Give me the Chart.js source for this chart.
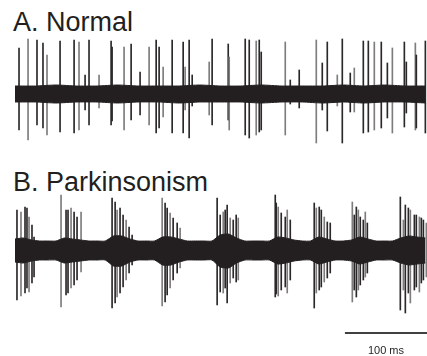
<!DOCTYPE html>
<html>
<head>
<meta charset="utf-8">
<script src="https://cdn.jsdelivr.net/npm/chart.js@4.4.1/dist/chart.umd.min.js"></script>
<style>
  html, body { margin: 0; padding: 0; background: #fff; }
  body {
    width: 427px; height: 356px; position: relative; overflow: hidden;
    font-family: "Liberation Sans", Arial, sans-serif; color: #231f20;
  }
  canvas { position: absolute; left: 0; }
  #chartNormal { top: 0; }
  #chartPark { top: 160px; }
  .panel-title { position: absolute; left: 13px; font-size: 27px; line-height: 27px; white-space: nowrap; }
  #titleA { top: 9px; }
  #titleB { top: 169px; }
  #scaleLabel {
    position: absolute; left: 356px; top: 345px; width: 60px;
    text-align: center; font-size: 11px; line-height: 11px; color: #231f20;
  }
</style>
</head>
<body>
<div class="panel-title" id="titleA">A. Normal</div>
<div class="panel-title" id="titleB">B. Parkinsonism</div>
<canvas id="chartNormal" width="427" height="160"></canvas>
<canvas id="chartPark" width="427" height="196"></canvas>
<div id="scaleLabel"></div>

<script>
/* =====================
 * DADOS — A. Normal (tempo em ms, amplitude em unidades arbitrárias)
 * ===================== */
const normalSpikeTimes = [4.9, 15.9, 26.8, 34.1, 39.0, 54.9, 72.0, 78.0, 85.4, 90.2, 102.4, 117.1, 118.3,
  132.9, 141.5, 152.4, 163.4, 172.0, 175.6, 180.5, 191.5, 204.9, 207.3, 212.2, 215.9, 236.6, 240.2,
  259.8, 261.0, 280.5, 285.4, 293.9, 297.6, 300.0, 329.3, 335.4, 346.3, 367.1, 374.4, 380.5, 392.7,
  398.8, 408.5, 413.4, 424.4, 430.5, 437.8, 446.3, 453.7, 459.8, 474.4, 476.8, 487.8, 489.0, 500.0];
const normalSpikeUp = [46, 55, 54, 51, 39, 53, 54, 52, 19, 54, 19, 53, 47,
  47, 50, 22, 47, 54, 47, 27, 54, 52, 27, 54, 19, 32, 55,
  50, 37, 55, 54, 53, 54, 42, 52, 14, 24, 54, 31, 52, 19,
  55, 21, 26, 53, 53, 52, 52, 31, 46, 52, 32, 51, 39, 53];
const normalSpikeDown = [-36, -46, -31, -34, -41, -38, -39, -36, -16, -31, -14, -31, -27,
  -36, -26, -21, -31, -39, -34, -23, -39, -39, -16, -44, -12, -21, -31,
  -26, -36, -41, -44, -41, -38, -36, -41, -10, -14, -49, -16, -37, -12,
  -49, -18, -18, -39, -38, -36, -34, -24, -39, -33, -19, -36, -34, -39];
const normalBandTimes = [0, 25, 50, 75, 100, 125, 150, 175, 200, 225, 250, 275, 300, 325, 350, 375, 400, 425, 450, 475, 500];
const normalBandUpper = [8, 8, 9, 8, 8, 9, 8, 8, 8, 9, 8, 8, 9, 8, 8, 8, 9, 8, 9, 8, 8];
const normalBandLower = [-8, -8, -9, -8, -8, -9, -8, -8, -9, -8, -8, -8, -9, -8, -8, -9, -8, -9, -8, -8, -9];

/* =====================
 * DADOS — B. Parkinsonism
 * ===================== */
const parkSpikeTimes = [2.4, 7.3, 12.2, 14.6, 17.1, 20.7, 23.2,
  56.1, 62.2, 64.6, 68.3, 72.0, 75.6, 80.5,
  118.3, 122.0, 124.4, 128.0, 131.7, 135.4, 139.0, 142.7,
  179.3, 182.9, 185.4, 189.0, 192.7, 197.6, 201.2,
  246.3, 250.0, 253.7, 256.1, 258.5, 262.2, 265.9, 269.5, 272.0,
  317.1, 318.3, 320.7, 324.4, 329.3, 331.7, 335.4,
  364.6, 367.1, 370.7, 373.2, 376.8, 380.5, 384.1,
  411.0, 413.4, 415.9, 418.3, 420.7, 424.4, 426.8, 429.3,
  469.5, 473.2, 475.6, 479.3, 481.7, 486.6, 489.0, 492.7, 495.1, 497.6, 501.2];
const parkSpikeUp = [40, 38, 43, 42, 33, 25, 13,
  55, 40, 40, 42, 38, 33, 38,
  52, 48, 40, 42, 35, 30, 23, 15,
  52, 47, 42, 37, 32, 27, 22,
  52, 35, 38, 40, 45, 32, 30, 35, 32,
  55, 47, 43, 37, 33, 40, 30,
  47, 42, 43, 40, 33, 28, 27,
  48, 35, 43, 40, 33, 30, 38, 27,
  53, 30, 45, 42, 40, 35, 35, 33, 32, 30, 27];
const parkSpikeDown = [-50, -46, -43, -38, -42, -33, -27,
  -57, -45, -43, -38, -35, -30, -22,
  -58, -53, -47, -43, -37, -30, -23, -15,
  -56, -52, -45, -38, -30, -23, -18,
  -55, -42, -43, -38, -53, -33, -28, -32, -30,
  -47, -44, -46, -40, -37, -43, -30,
  -58, -43, -40, -37, -32, -28, -23,
  -52, -40, -47, -40, -35, -30, -27, -23,
  -60, -40, -63, -43, -53, -40, -37, -42, -33, -30, -27];
const parkBandTimes = [0, 10, 20, 30, 40, 50, 60, 70, 80, 90, 100, 110, 120, 130, 140, 150, 160, 170, 180, 190,
  200, 210, 220, 230, 240, 250, 260, 270, 280, 290, 300, 310, 320, 330, 340, 350, 360, 370, 380, 390,
  400, 410, 420, 430, 440, 450, 460, 470, 480, 490, 500];
const parkBandUpper = [11, 12, 10, 9, 9, 9, 12, 11, 10, 9, 9, 9, 14, 14, 11, 9, 9, 9, 13, 13,
  11, 9, 9, 9, 9, 15, 16, 12, 9, 9, 9, 9, 13, 12, 10, 9, 9, 13, 11, 9,
  9, 10, 13, 11, 9, 9, 9, 12, 14, 13, 12];
const parkBandLower = [-12, -13, -11, -10, -10, -10, -13, -12, -11, -10, -10, -10, -16, -16, -12, -10, -10, -10, -15, -15,
  -12, -10, -10, -10, -10, -17, -18, -13, -10, -10, -10, -10, -14, -13, -11, -10, -10, -14, -12, -10,
  -10, -11, -14, -12, -10, -10, -10, -13, -15, -14, -13];

const scaleBarMs = 100;
const scaleBarLabel = "100 ms";

/* =====================
 * MONTAGEM DOS GRÁFICOS
 * ===================== */

const INK = "#231f20";
const GRAY = "#7d7d7d";

function spikeColor(ctx) {
  return ctx.dataIndex % 3 === 1 ? GRAY : "#2b2829";
}

function buildTrace(canvasId, cfg) {
  const spikes = cfg.times.map((t, i) => ({ x: t, y: [cfg.down[i], cfg.up[i]] }));
  const upper = cfg.bandT.map((t, i) => ({ x: t, y: cfg.bandUp[i] }));
  const lower = cfg.bandT.map((t, i) => ({ x: t, y: cfg.bandLo[i] }));

  const datasets = [
    {
      type: "line", data: upper, order: 0,
      borderColor: INK, backgroundColor: INK, borderWidth: 1,
      pointRadius: 0, fill: "+1", tension: 0.2
    },
    {
      type: "line", data: lower, order: 0,
      borderColor: INK, borderWidth: 1,
      pointRadius: 0, fill: false, tension: 0.2
    },
    {
      type: "bar", data: spikes, order: 2,
      backgroundColor: spikeColor, barThickness: 1, borderWidth: 0
    }
  ];

  if (cfg.scaleBar) datasets.push(cfg.scaleBar);

  return new Chart(document.getElementById(canvasId), {
    type: "bar",
    data: { datasets },
    options: {
      responsive: false,
      animation: false,
      events: [],
      layout: { padding: cfg.padding },
      plugins: { legend: { display: false }, tooltip: { enabled: false } },
      scales: {
        x: { type: "linear", min: 0, max: 502, offset: false, display: false },
        y: { min: cfg.yMin, max: cfg.yMax, display: false }
      }
    }
  });
}

buildTrace("chartNormal", {
  times: normalSpikeTimes, up: normalSpikeUp, down: normalSpikeDown,
  bandT: normalBandTimes, bandUp: normalBandUpper, bandLo: normalBandLower,
  padding: { left: 15, right: 0, top: 35, bottom: 10 },
  yMin: -56, yMax: 59
});

// barra de escala (100 ms) no canto inferior direito do painel B
const scaleEnd = 502;
buildTrace("chartPark", {
  times: parkSpikeTimes, up: parkSpikeUp, down: parkSpikeDown,
  bandT: parkBandTimes, bandUp: parkBandUpper, bandLo: parkBandLower,
  padding: { left: 15, right: 0, top: 30, bottom: 16 },
  yMin: -90, yMax: 60,
  scaleBar: {
    type: "line", order: 0,
    data: [{ x: scaleEnd - scaleBarMs, y: -83 }, { x: scaleEnd, y: -83 }],
    borderColor: "#000", borderWidth: 1.4, pointRadius: 0, fill: false
  }
});

document.getElementById("scaleLabel").textContent = scaleBarLabel;
</script>
</body>
</html>
